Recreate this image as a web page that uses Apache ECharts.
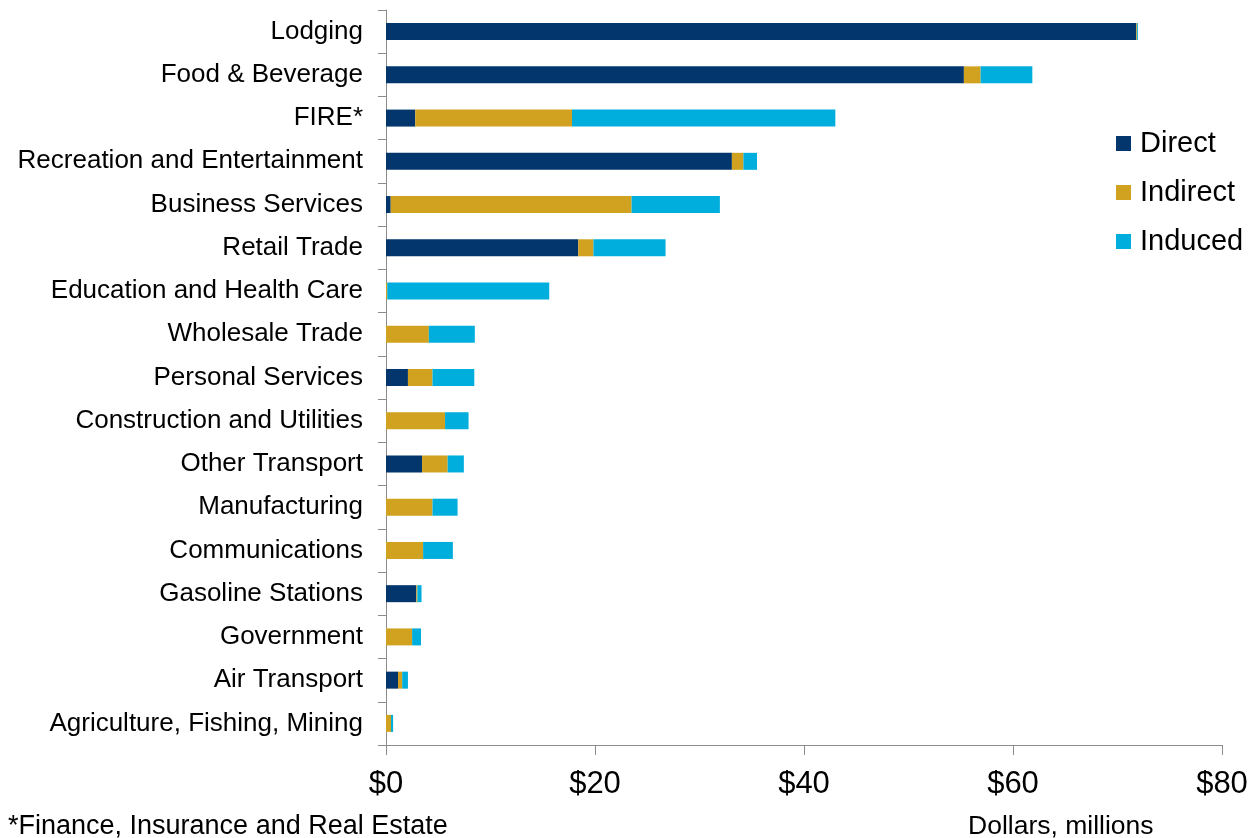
<!DOCTYPE html>
<html>
<head>
<meta charset="utf-8">
<script src="https://cdn.jsdelivr.net/npm/echarts@6/dist/echarts.min.js"></script>
<style>
html,body{margin:0;padding:0;background:#fff;}
#c{width:1255px;height:838px;}
</style>
</head>
<body>
<div id="c"></div>
<script>
const categories = ["Lodging","Food & Beverage","FIRE*","Recreation and Entertainment","Business Services","Retail Trade","Education and Health Care","Wholesale Trade","Personal Services","Construction and Utilities","Other Transport","Manufacturing","Communications","Gasoline Stations","Government","Air Transport","Agriculture, Fishing, Mining"];
const direct   = [71.8, 55.3, 2.8, 33.1, 0.45, 18.4, 0, 0, 2.1, 0, 3.45, 0, 0, 2.9, 0, 1.15, 0];
const indirect = [0.08, 1.6, 15.0, 1.1, 23.05, 1.45, 0.12, 4.1, 2.35, 5.65, 2.45, 4.45, 3.55, 0.1, 2.5, 0.4, 0.48];
const induced  = [0.08, 4.95, 25.2, 1.3, 8.45, 6.9, 15.5, 4.4, 4.0, 2.25, 1.55, 2.4, 2.85, 0.4, 0.85, 0.55, 0.2];
const xTicks = [0, 20, 40, 60, 80];
const footnote = "*Finance, Insurance and Real Estate";
const unitLabel = "Dollars, millions";

const FONT = "'Liberation Sans', Arial, sans-serif";
const chart = echarts.init(document.getElementById('c'), null, {renderer: 'canvas'});
const mk = (name, data, color) => ({
  name, type: 'bar', stack: 'total', data, barWidth: 17,
  itemStyle: {color}, emphasis: {disabled: true}
});
chart.setOption({
  animation: false,
  textStyle: {fontFamily: FONT},
  grid: {left: 386, right: 33, top: 10, bottom: 93, containLabel: false},
  legend: {
    orient: 'vertical', left: 1111, top: 124,
    itemWidth: 15, itemHeight: 15, itemGap: 20,
    icon: 'rect',
    textStyle: {fontSize: 29, color: '#000', fontFamily: FONT, padding: [0, 0, 0, 4]},
    data: ['Direct', 'Indirect', 'Induced']
  },
  xAxis: {
    type: 'value', min: xTicks[0], max: xTicks[xTicks.length - 1], interval: 20,
    axisLine: {show: true, lineStyle: {color: '#8c8c8c', width: 1}},
    axisTick: {show: true, length: 10, lineStyle: {color: '#8c8c8c'}},
    splitLine: {show: false},
    axisLabel: {fontSize: 31, color: '#000', margin: 24, fontFamily: FONT,
      formatter: v => '$' + v}
  },
  yAxis: {
    type: 'category', inverse: true, data: categories,
    axisLine: {show: true, lineStyle: {color: '#8c8c8c', width: 1}},
    axisTick: {show: true, length: 8, lineStyle: {color: '#8c8c8c'}},
    axisLabel: {fontSize: 26, color: '#000', margin: 23, fontFamily: FONT}
  },
  graphic: [
    {type: 'text', left: 8, top: 813, style: {text: footnote, fontSize: 27, fill: '#000', fontFamily: FONT}},
    {type: 'text', left: 968, top: 813, style: {text: unitLabel, fontSize: 26.5, fill: '#000', fontFamily: FONT}}
  ],
  series: [
    mk('Direct', direct, '#03366C'),
    mk('Indirect', indirect, '#D1A21F'),
    mk('Induced', induced, '#00AEDD')
  ]
});
</script>
</body>
</html>
